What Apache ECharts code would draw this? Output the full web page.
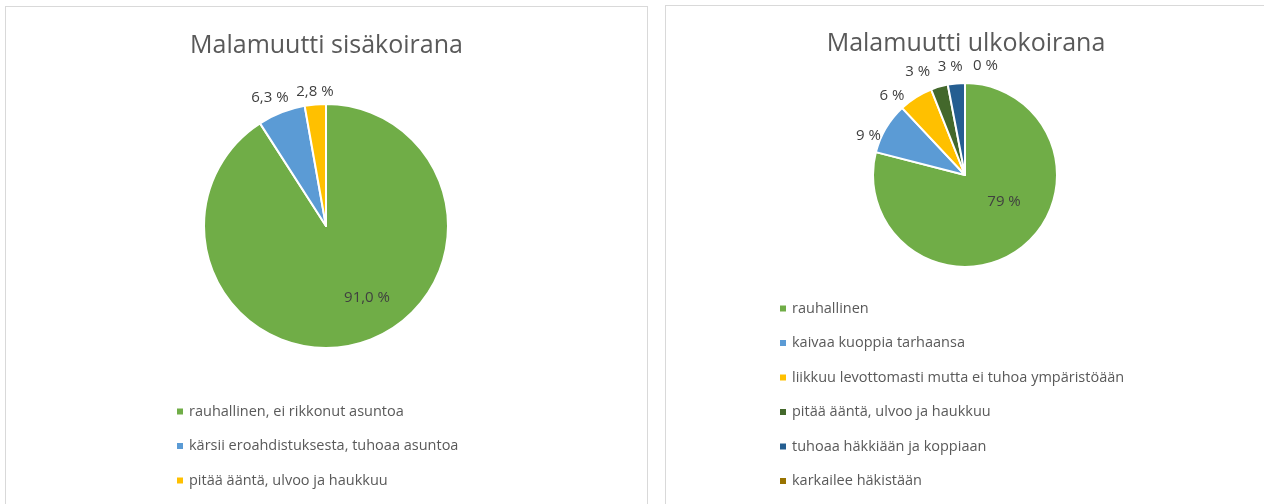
<!DOCTYPE html>
<html>
<head>
<meta charset="utf-8">
<script src="https://cdn.jsdelivr.net/npm/echarts@6/dist/echarts.min.js"></script>
<style>
  html, body { margin: 0; padding: 0; background: #fff; overflow: hidden; }
  #wrap { position: relative; width: 1264px; height: 504px; overflow: hidden; }
  .panel { position: absolute; border: 1px solid #d9d9d9; background: #fff; }
  #sisa { left: 5px; top: 6px; width: 641px; height: 520px; }
  #ulko { left: 665px; top: 5px; width: 600px; height: 520px; }
</style>
</head>
<body>
<div id="wrap">
  <div id="sisa" class="panel"></div>
  <div id="ulko" class="panel"></div>
</div>
<script>
// Malamuutti sisäkoirana
const sisaTitle = 'Malamuutti sisäkoirana';
const sisaCategories = [
  'rauhallinen, ei rikkonut asuntoa',
  'kärsii eroahdistuksesta, tuhoaa asuntoa',
  'pitää ääntä, ulvoo ja haukkuu'
];
const sisaValues = [91.0, 6.3, 2.8];
const sisaColors = ['#70ad47', '#5b9bd5', '#ffc000'];

// Malamuutti ulkokoirana
const ulkoTitle = 'Malamuutti ulkokoirana';
const ulkoCategories = [
  'rauhallinen',
  'kaivaa kuoppia tarhaansa',
  'liikkuu levottomasti mutta ei tuhoa ympäristöään',
  'pitää ääntä, ulvoo ja haukkuu',
  'tuhoaa häkkiään ja koppiaan',
  'karkailee häkistään'
];
const ulkoValues = [79, 9, 6, 3, 3, 0];
const ulkoColors = ['#70ad47', '#5b9bd5', '#ffc000', '#43682b', '#255e91', '#997300'];

const FONT = '"Open Sans", sans-serif';

function fiFormat(decimals) {
  return function(p) {
    return p.value.toFixed(decimals).replace('.', ',') + ' %';
  };
}

function drawPie(el, title, cats, vals, colors, opts) {
  const chart = echarts.init(document.getElementById(el), null, { renderer: 'canvas' });
  const data = cats.map(function(name, i) {
    const label = { offset: opts.labelOffsets[i] };
    // first (big) slice gets its label inside, like Excel's best fit
    if (i === 0) {
      label.position = 'inside';
    }
    return {
      name: name,
      value: vals[i],
      itemStyle: { color: colors[i] },
      label: label
    };
  });
  chart.setOption({
    animation: false,
    title: {
      text: title,
      left: 'center',
      top: opts.titleTop,
      textStyle: {
        color: '#595959',
        fontFamily: FONT,
        fontWeight: 'normal',
        fontSize: 25
      }
    },
    legend: {
      orient: 'vertical',
      left: opts.legendLeft,
      top: opts.legendTop,
      padding: 0,
      icon: 'rect',
      itemWidth: 8,
      itemHeight: 8,
      itemGap: 19.5,
      selectedMode: false,
      data: cats,
      textStyle: {
        color: '#595959',
        fontFamily: FONT,
        fontSize: 14.5
      }
    },
    series: [
      {
        type: 'pie',
        center: opts.center,
        radius: opts.radius,
        startAngle: 90,
        clockwise: true,
        avoidLabelOverlap: false,
        stillShowZeroSum: true,
        labelLayout: { hideOverlap: false },
        itemStyle: {
          borderColor: '#fff',
          borderWidth: 2
        },
        label: {
          show: true,
          position: 'outside',
          formatter: fiFormat(opts.decimals),
          color: '#404040',
          fontFamily: FONT,
          fontSize: 15
        },
        labelLine: {
          show: false,
          length: 8,
          length2: 0
        },
        emphasis: { disabled: true },
        data: data
      }
    ]
  });
  window.addEventListener('resize', function() {
    chart.resize();
  });
  return chart;
}

drawPie('sisa', sisaTitle, sisaCategories, sisaValues, sisaColors, {
  titleTop: 21,
  legendLeft: 169,
  legendTop: 397,
  center: [320, 219],
  radius: 122,
  decimals: 1,
  labelOffsets: [[23, 10], [15, -7], [24, -5]]
});

drawPie('ulko', ulkoTitle, ulkoCategories, ulkoValues, ulkoColors, {
  titleTop: 20,
  legendLeft: 112,
  legendTop: 295,
  center: [299, 169],
  radius: 92,
  decimals: 0,
  labelOffsets: [[9, -12], [7, 12], [-2, 5], [-2, -7], [12, -9], [3, -9]]
});
</script>
</body>
</html>
